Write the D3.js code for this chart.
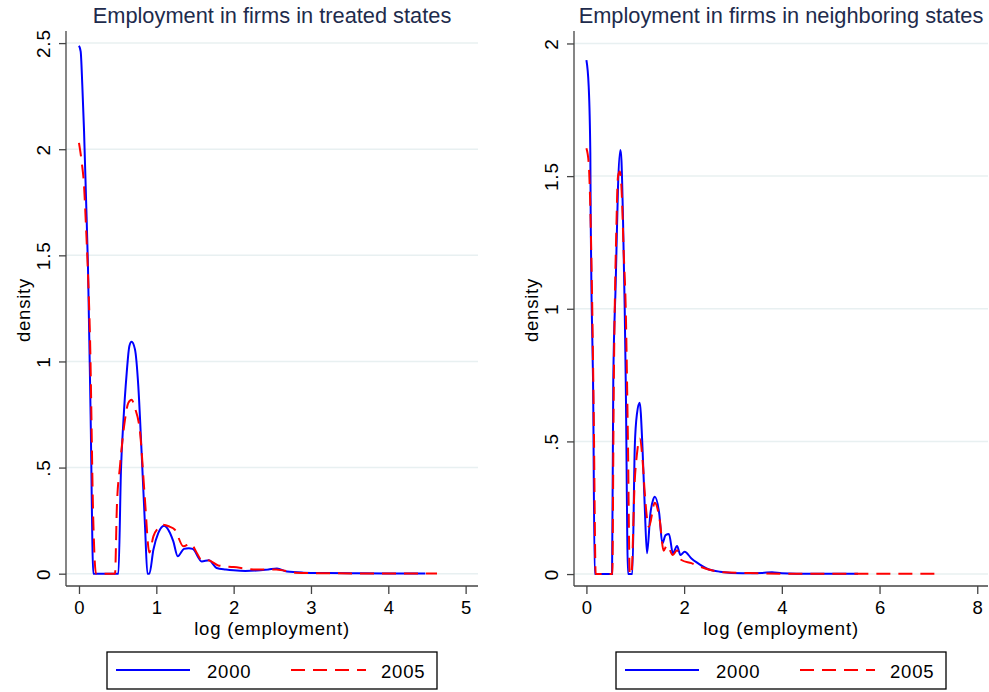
<html>
    <head>
        <script type="text/javascript" src="https://d3js.org/d3.v7.min.js"></script>
        <style>
            body { margin: 0; background: #fff; }
            text { font-family: "Liberation Sans", Arial, Helvetica, sans-serif; }
        </style>
    </head>
    <body>
        <div id='my_chart'></div>
    </body>
    <script type="text/javascript">
        var width = 989, height = 692;

        // panel titles, axis labels, legend
        var titles = ["Employment in firms in treated states", "Employment in firms in neighboring states"];
        var xLabel = "log (employment)";
        var yLabel = "density";
        var seriesNames = ["2000", "2005"];

        // tick values
        var treatedXTicks = [0, 1, 2, 3, 4, 5];
        var treatedYTicks = [0, 0.5, 1, 1.5, 2, 2.5];
        var treatedYTickLabels = ["0", ".5", "1", "1.5", "2", "2.5"];
        var neighborXTicks = [0, 2, 4, 6, 8];
        var neighborYTicks = [0, 0.5, 1, 1.5, 2];
        var neighborYTickLabels = ["0", ".5", "1", "1.5", "2"];

        // density curves: [log employment, density]
        var treated2000 = [[0,2.487],[0.022,2.46],[0.043,2.30],[0.065,2.09],[0.09,1.78],[0.116,1.45],[0.15,0.75],[0.185,0],
            [0.51,0],[0.543,0.49],[0.573,0.71],[0.617,0.946],[0.651,1.072],[0.68,1.093],[0.724,1.057],[0.767,0.884],[0.81,0.57],
            [0.854,0.223],[0.885,0],[0.91,0],[0.962,0.113],[1.026,0.192],[1.10,0.226],[1.177,0.192],[1.22,0.152],[1.277,0.082],
            [1.358,0.117],[1.42,0.12],[1.47,0.117],[1.587,0.058],[1.68,0.063],[1.78,0.027],[1.9,0.02],[2.0,0.016],[2.15,0.013],
            [2.3,0.015],[2.45,0.02],[2.56,0.024],[2.69,0.01],[2.9,0.005],[3.2,0.003],[3.6,0.002],[4.0,0.001],[4.48,0.001]];
        var treated2005 = [[0,2.03],[0.035,1.94],[0.065,1.83],[0.09,1.64],[0.12,1.38],[0.142,1.12],[0.185,0.25],[0.22,0],
            [0.466,0],[0.49,0.317],[0.53,0.506],[0.595,0.726],[0.638,0.805],[0.68,0.82],[0.724,0.78],[0.79,0.665],[0.85,0.365],
            [0.91,0.1],[0.962,0.176],[1.026,0.215],[1.09,0.231],[1.17,0.222],[1.24,0.207],[1.35,0.129],[1.445,0.142],[1.52,0.1],
            [1.59,0.063],[1.67,0.063],[1.80,0.039],[2.0,0.031],[2.3,0.02],[2.55,0.02],[2.8,0.005],[3.2,0.002],[3.8,0.001],[4.63,0.001]];
        var neighbor2000 = [[0,1.937],[0.047,1.837],[0.08,1.587],[0.088,1.33],[0.109,1.0],[0.136,0.73],[0.17,0],
            [0.525,0],[0.55,0.73],[0.6,1.1],[0.614,1.21],[0.647,1.46],[0.696,1.598],[0.717,1.56],[0.75,1.33],[0.784,1.0],
            [0.805,0.73],[0.852,0],[0.94,0],[0.99,0.48],[1.036,0.606],[1.09,0.646],[1.147,0.48],[1.194,0.254],[1.24,0.078],
            [1.31,0.229],[1.364,0.279],[1.40,0.291],[1.49,0.229],[1.555,0.116],[1.62,0.147],[1.69,0.151],[1.77,0.078],
            [1.855,0.106],[1.925,0.072],[2.01,0.084],[2.15,0.059],[2.265,0.043],[2.46,0.021],[2.73,0.009],[3.2,0.003],
            [3.6,0.004],[3.8,0.007],[4.0,0.003],[4.6,0.001],[5.56,0.001]];
        var neighbor2005 = [[0,1.605],[0.047,1.549],[0.068,1.46],[0.1,1.21],[0.12,1.0],[0.15,0.6],[0.19,0],
            [0.53,0],[0.56,0.7],[0.614,1.31],[0.647,1.5],[0.683,1.517],[0.717,1.46],[0.764,1.21],[0.805,1.0],[0.85,0.5],
            [0.887,0],[0.92,0],[0.99,0.354],[1.036,0.455],[1.09,0.511],[1.16,0.404],[1.19,0.317],[1.28,0.178],[1.40,0.269],
            [1.50,0.204],[1.58,0.088],[1.65,0.109],[1.77,0.072],[1.855,0.09],[1.945,0.053],[2.15,0.041],[2.3,0.03],[2.5,0.017],
            [2.8,0.007],[3.5,0.003],[4.5,0.001],[5.5,0.001],[7.23,0.001]];

        var colors = ["#0000ff", "#ff0000"];
        var dashes = [null, "14,8"];

        var svg = d3.select("#my_chart").append("svg")
            .attr("width", width)
            .attr("height", height);

        var panels = [
            {title: titles[0], left: 66, right: 478, top: 31, bottom: 586,
             xDomain: [-0.168, 5.16], yDomain: [-0.058, 2.557],
             xTicks: treatedXTicks, yTicks: treatedYTicks, yTickLabels: treatedYTickLabels,
             series: [treated2000, treated2005]},
            {title: titles[1], left: 574, right: 988, top: 31, bottom: 586,
             xDomain: [-0.254, 8.22], yDomain: [-0.045, 2.047],
             xTicks: neighborXTicks, yTicks: neighborYTicks, yTickLabels: neighborYTickLabels,
             series: [neighbor2000, neighbor2005]}
        ];

        panels.forEach(drawPanel);

        function drawPanel(p) {
            var g = svg.append("g");
            var xScale = d3.scaleLinear().domain(p.xDomain).range([p.left, p.right]);
            var yScale = d3.scaleLinear().domain(p.yDomain).range([p.bottom, p.top]);
            var cx = (p.left + p.right) / 2;

            // gridlines
            g.selectAll(".grid")
                .data(p.yTicks)
                .enter()
                .append("line")
                .attr("x1", p.left)
                .attr("x2", p.right)
                .attr("y1", function(d) { return yScale(d); })
                .attr("y2", function(d) { return yScale(d); })
                .attr("stroke", "#e8f0f1")
                .attr("stroke-width", 1.5);

            // y axis
            var yAxis = g.append("g")
                .attr("transform", "translate(" + p.left + ",0)")
                .call(d3.axisLeft(yScale).tickValues(p.yTicks).tickSize(7).tickFormat(""));
            yAxis.select(".domain").attr("d", "M0," + p.bottom + "V" + p.top);
            yAxis.selectAll("line, path").attr("stroke", "#444").attr("stroke-width", 1.3);
            yAxis.selectAll(".tick")
                .append("text")
                .attr("transform", "translate(-16,0) rotate(-90)")
                .attr("text-anchor", "middle")
                .attr("fill", "#000")
                .style("font-size", "19px")
                .style("letter-spacing", "0.8px")
                .text(function(d, i) { return p.yTickLabels[i]; });

            // x axis
            var xAxis = g.append("g")
                .attr("transform", "translate(0," + p.bottom + ")")
                .call(d3.axisBottom(xScale).tickValues(p.xTicks).tickSize(8).tickFormat(""));
            xAxis.select(".domain").attr("d", "M" + p.left + ",0H" + p.right);
            xAxis.selectAll("line, path").attr("stroke", "#444").attr("stroke-width", 1.3);
            xAxis.selectAll(".tick")
                .append("text")
                .attr("y", 28)
                .attr("text-anchor", "middle")
                .attr("fill", "#000")
                .style("font-size", "18.5px")
                .text(function(d) { return d; });

            // curves
            var line = d3.line()
                .x(function(d) { return xScale(d[0]); })
                .y(function(d) { return yScale(d[1]); })
                .curve(d3.curveMonotoneX);

            p.series.forEach(function(s, i) {
                g.append("path")
                    .attr("d", line(s))
                    .attr("fill", "none")
                    .attr("stroke", colors[i])
                    .attr("stroke-width", 2)
                    .attr("stroke-dasharray", dashes[i]);
            });

            // titles
            g.append("text")
                .attr("x", cx)
                .attr("y", 23)
                .attr("text-anchor", "middle")
                .attr("fill", "#1e2b4c")
                .style("font-size", "21.8px")
                .text(p.title);

            g.append("text")
                .attr("x", cx)
                .attr("y", 635)
                .attr("text-anchor", "middle")
                .attr("fill", "#000")
                .style("font-size", "18.5px")
                .style("letter-spacing", "0.8px")
                .text(xLabel);

            g.append("text")
                .attr("transform", "translate(" + (p.left - 36) + ",310) rotate(-90)")
                .attr("text-anchor", "middle")
                .attr("fill", "#000")
                .style("font-size", "18.5px")
                .style("letter-spacing", "0.8px")
                .text(yLabel);

            // legend
            var lx = cx - 165, ly = 652;
            g.append("rect")
                .attr("x", lx)
                .attr("y", ly)
                .attr("width", 330)
                .attr("height", 37)
                .attr("fill", "#fff")
                .attr("stroke", "#000")
                .attr("stroke-width", 1.3);
            var items = [{x1: 9, x2: 83, tx: 100}, {x1: 184, x2: 259, tx: 274}];
            items.forEach(function(it, i) {
                g.append("line")
                    .attr("x1", lx + it.x1)
                    .attr("x2", lx + it.x2)
                    .attr("y1", ly + 18)
                    .attr("y2", ly + 18)
                    .attr("stroke", colors[i])
                    .attr("stroke-width", 2)
                    .attr("stroke-dasharray", dashes[i]);
                g.append("text")
                    .attr("x", lx + it.tx)
                    .attr("y", ly + 25.5)
                    .attr("fill", "#000")
                    .style("font-size", "18.5px")
                    .style("letter-spacing", "0.8px")
                    .text(seriesNames[i]);
            });
        }

    </script>
</html>
